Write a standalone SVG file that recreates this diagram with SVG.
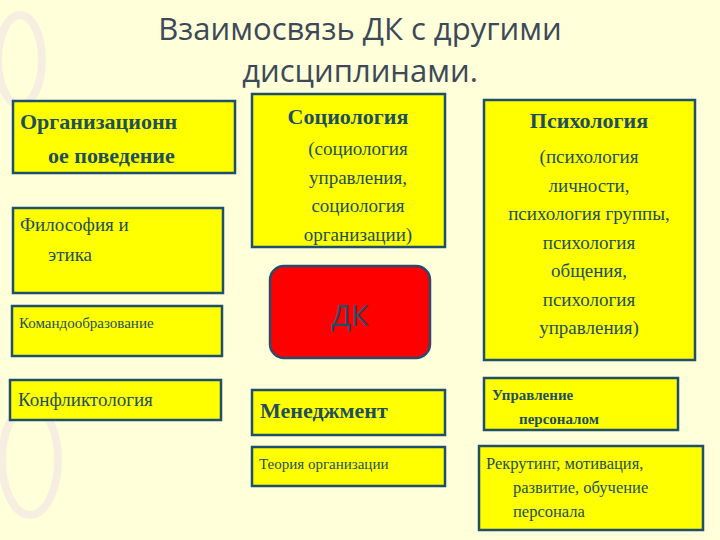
<svg xmlns="http://www.w3.org/2000/svg" width="720" height="540" viewBox="0 0 720 540">
<style>
.b{fill:#ffff00;stroke:#1f4f6a;stroke-width:2.5}
.t{font-family:"Liberation Serif",serif;fill:#1e4f5a}
.bd{font-weight:bold}
.h{font-family:"Open Sans","Liberation Sans",sans-serif;fill:#3d4858;font-size:31px;text-anchor:middle}
</style>
<rect width="720" height="540" fill="#ffffd9"/>
<g opacity="0.35" fill="none" stroke="#e6d0f0" stroke-width="8">
<ellipse cx="30" cy="460" rx="28" ry="55"/>
<ellipse cx="20" cy="60" rx="22" ry="45"/>
</g>
<text class="h" x="360" y="40">Взаимосвязь ДК  с другими</text>
<text class="h" x="360" y="82">дисциплинами.</text>
<g id="org"><rect class="b" x="13" y="101" width="222" height="72"/>
<text class="t bd" font-size="22" x="20" y="129">Организационн</text>
<text class="t bd" font-size="22" x="48" y="163">ое поведение</text></g>
<g id="phil"><rect class="b" x="13" y="208" width="210" height="85"/>
<text class="t" font-size="19" x="20" y="231">Философия и</text>
<text class="t" font-size="19" x="48" y="261">этика</text></g>
<g id="team"><rect class="b" x="12" y="306" width="210" height="50"/>
<text class="t" font-size="15" x="19" y="328">Командообразование</text></g>
<g id="conf"><rect class="b" x="10" y="380" width="211" height="40"/>
<text class="t" font-size="19" x="18" y="406">Конфликтология</text></g>
<g id="soc"><rect class="b" x="252" y="94" width="193" height="153"/>
<text class="t" text-anchor="middle" x="348" y="124"><tspan class="bd" font-size="22">Социология</tspan></text>
<text class="t" font-size="19" text-anchor="middle" x="358"><tspan x="358" y="155">(социология</tspan><tspan x="358" y="184">управления,</tspan><tspan x="358" y="212">социология</tspan><tspan x="358" y="241">организации)</tspan></text></g>
<g id="dk"><rect x="270" y="266" width="160" height="92" rx="14" fill="#ff0000" stroke="#2c4a6e" stroke-width="2.5"/>
<text x="350" y="326" font-family="Open Sans,Liberation Sans,sans-serif" font-size="29" fill="#1f4f6a" text-anchor="middle">ДК</text></g>
<g id="psy"><rect class="b" x="484" y="100" width="211" height="260"/>
<text class="t bd" font-size="22" text-anchor="middle" x="589" y="128">Психология</text>
<text class="t" font-size="19" text-anchor="middle"><tspan x="589" y="163">(психология</tspan><tspan x="589" y="192">личности,</tspan><tspan x="589" y="220">психология группы,</tspan><tspan x="589" y="249">психология</tspan><tspan x="589" y="277">общения,</tspan><tspan x="589" y="306">психология</tspan><tspan x="589" y="334">управления)</tspan></text></g>
<g id="mgmt"><rect class="b" x="252" y="390" width="193" height="45"/>
<text class="t bd" font-size="22" x="260" y="418">Менеджмент</text></g>
<g id="theory"><rect class="b" x="252" y="447" width="193" height="39"/>
<text class="t" font-size="15" x="259" y="469">Теория организации</text></g>
<g id="hr"><rect class="b" x="484" y="378" width="194" height="52"/>
<text class="t bd" font-size="15" x="492" y="400">Управление</text>
<text class="t bd" font-size="15" x="519" y="424">персоналом</text></g>
<g id="rec"><rect class="b" x="479" y="446" width="224" height="84"/>
<text class="t" font-size="16.5" x="486" y="469">Рекрутинг, мотивация,</text>
<text class="t" font-size="16.5" x="513" y="493">развитие, обучение</text>
<text class="t" font-size="16.5" x="513" y="517">персонала</text></g>
<g id="connectors"/>
</svg>
